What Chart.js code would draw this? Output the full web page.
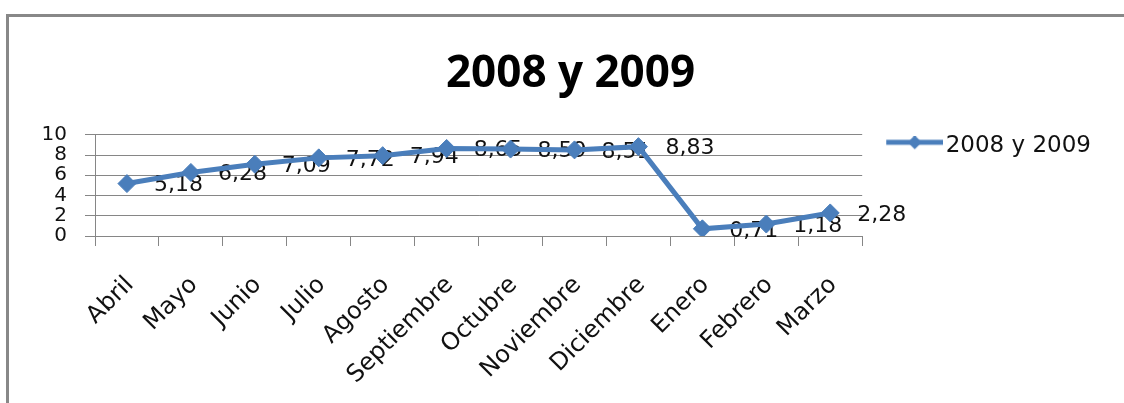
<!DOCTYPE html>
<html>
<head>
<meta charset="utf-8">
<title>2008 y 2009</title>
<script src="https://cdn.jsdelivr.net/npm/chart.js@4/dist/chart.umd.min.js"></script>
<style>
    html, body { margin: 0; padding: 0; background: #fff; }
    #marco {
        position: absolute; left: 6px; top: 14px; width: 1200px; height: 500px;
        border-left: 3px solid #888; border-top: 3px solid #888;
    }
    #grafica { position: absolute; left: 0; top: 0; }
</style>
</head>
<body>
<div id="marco"></div>
<canvas id="grafica" width="1124" height="403"></canvas>
<script>
// Meses de abril 2008 a marzo 2009
var meses = ['Abril', 'Mayo', 'Junio', 'Julio', 'Agosto', 'Septiembre', 'Octubre',
    'Noviembre', 'Diciembre', 'Enero', 'Febrero', 'Marzo'];
var valores = [5.18, 6.28, 7.09, 7.72, 7.94, 8.65, 8.59, 8.51, 8.83, 0.71, 1.18, 2.28];
var ticksY = [0, 2, 4, 6, 8, 10];

var AZUL = '#4A7EBB';
var GRIS = '#868686';

// Icono de la leyenda: línea con rombo
function iconoLeyenda() {
    var c = document.createElement('canvas');
    c.width = 90; c.height = 20;
    var g = c.getContext('2d');
    g.strokeStyle = AZUL; g.lineWidth = 5;
    g.beginPath(); g.moveTo(33, 6); g.lineTo(90, 6); g.stroke();
    g.fillStyle = AZUL;
    g.beginPath();
    g.moveTo(61.5, -1); g.lineTo(68.5, 6); g.lineTo(61.5, 13); g.lineTo(54.5, 6);
    g.closePath(); g.fill();
    return c;
}

// Etiquetas de valor a la derecha de cada punto
var etiquetasValor = {
    id: 'etiquetasValor',
    beforeDatasetsDraw: function (chart) {
        var ctx = chart.ctx;
        var puntos = chart.getDatasetMeta(0).data;
        ctx.save();
        ctx.font = '22px "DejaVu Sans"';
        ctx.fillStyle = '#111';
        ctx.textAlign = 'left';
        ctx.textBaseline = 'middle';
        puntos.forEach(function (p, i) {
            ctx.fillText(valores[i].toFixed(2).replace('.', ','), p.x + 27, p.y + 2);
        });
        ctx.restore();
    }
};

var icono = iconoLeyenda();

new Chart(document.getElementById('grafica'), {
    type: 'line',
    data: {
        labels: meses,
        datasets: [{
            label: '2008 y 2009',
            data: valores,
            borderColor: AZUL,
            backgroundColor: AZUL,
            borderWidth: 5,
            tension: 0,
            pointStyle: 'rectRot',
            pointRadius: 9,
            pointBackgroundColor: AZUL,
            pointBorderColor: AZUL,
            pointBorderWidth: 1
        }]
    },
    options: {
        responsive: false,
        animation: false,
        layout: { padding: { left: 40, right: 23, top: 0, bottom: 0 } },
        plugins: {
            title: {
                display: true,
                text: '2008 y 2009',
                color: '#000',
                font: { family: 'Open Sans', weight: 'bold', size: 44 },
                padding: { top: 48, bottom: 34 }
            },
            legend: {
                position: 'right',
                align: 'start',
                fullSize: false,
                labels: {
                    usePointStyle: true,
                    pointStyle: icono,
                    pointStyleWidth: 72,
                    boxHeight: 22,
                    padding: 0,
                    color: '#111',
                    font: { family: 'DejaVu Sans', size: 23 },
                    generateLabels: function (chart) {
                        var items = Chart.defaults.plugins.legend.labels.generateLabels(chart);
                        items.forEach(function (it) { it.pointStyle = icono; });
                        return items;
                    }
                }
            },
            tooltip: { enabled: false }
        },
        scales: {
            x: {
                offset: true,
                afterFit: function (scale) { scale.height = 167; },
                grid: {
                    display: true, drawOnChartArea: false, drawTicks: true,
                    tickLength: 10, offset: true, color: GRIS
                },
                border: { color: GRIS },
                ticks: {
                    autoSkip: false, maxRotation: 45, minRotation: 45,
                    padding: 25, labelOffset: 3, color: '#111',
                    font: { family: 'DejaVu Sans', size: 24 }
                }
            },
            y: {
                min: 0,
                max: 10,
                afterFit: function (scale) { scale.width = 55; },
                afterBuildTicks: function (scale) {
                    scale.ticks = ticksY.map(function (v) { return { value: v }; });
                },
                grid: { color: GRIS, tickLength: 10 },
                border: { color: GRIS },
                ticks: {
                    autoSkip: false, padding: 18, color: '#111',
                    font: { family: 'DejaVu Sans', size: 20 }
                }
            }
        }
    },
    plugins: [etiquetasValor]
});
</script>
</body>
</html>
